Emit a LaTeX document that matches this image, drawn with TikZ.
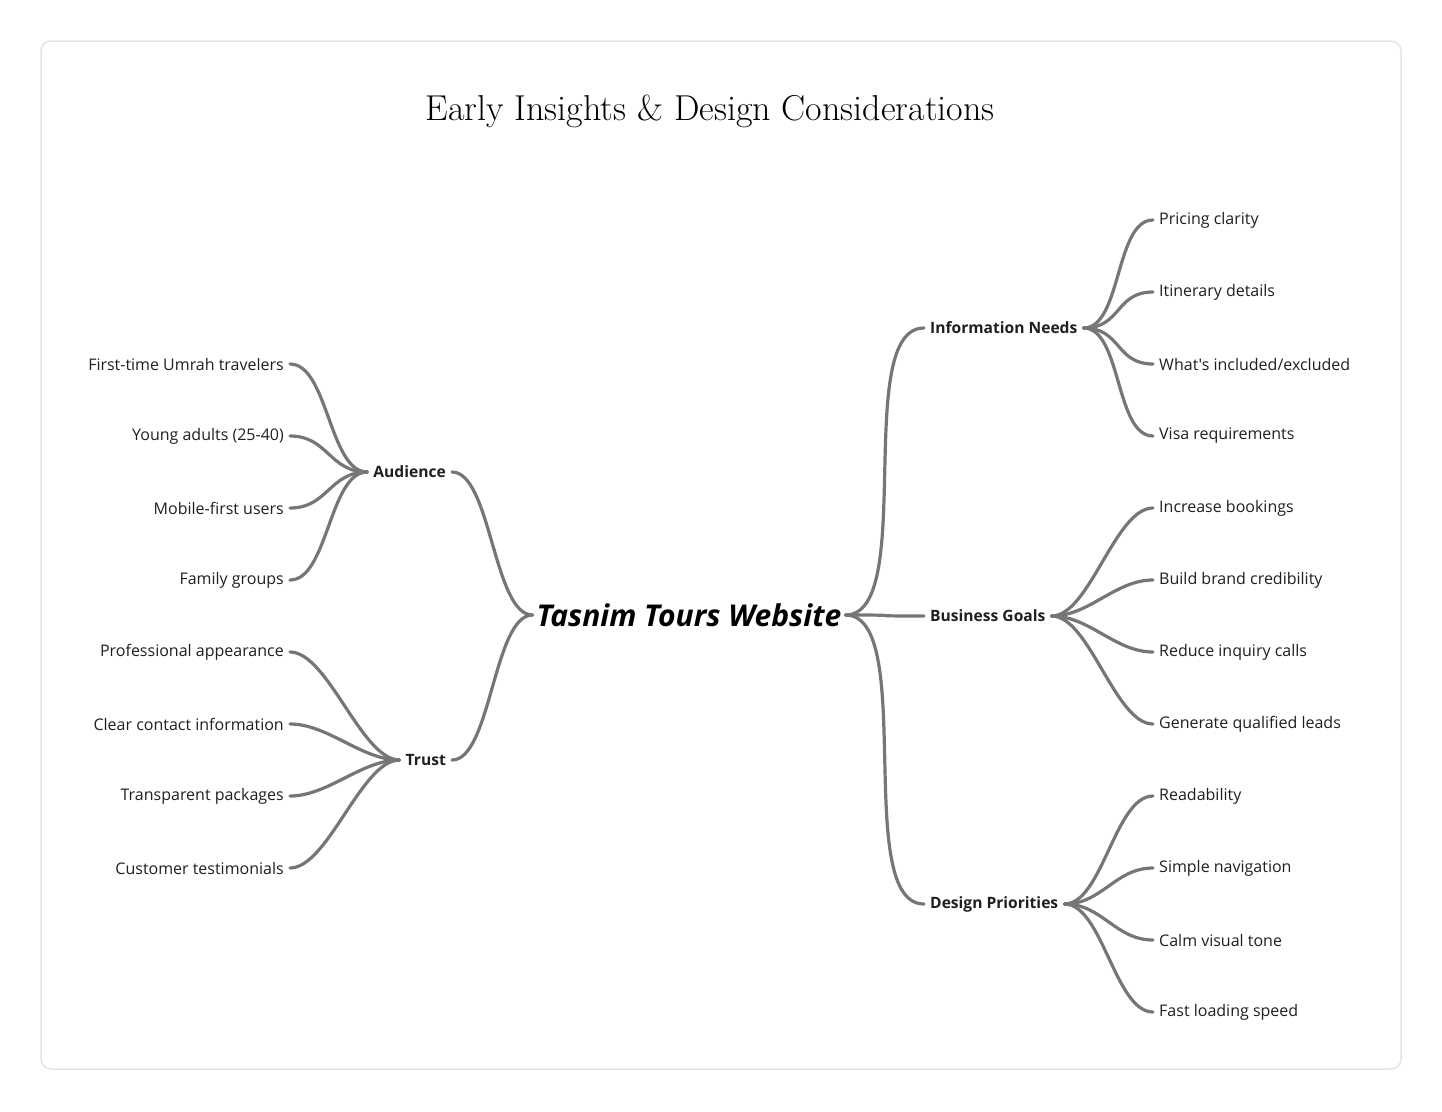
\documentclass[tikz,border=0pt]{standalone}
\usepackage{fontspec}
\newfontfamily\labelfont{Open Sans}
\usetikzlibrary{arrows}

\definecolor{linkgray}{HTML}{767676}
\definecolor{framegray}{HTML}{E4E4E4}
\definecolor{inkblack}{HTML}{1F1F1F}

\tikzset{
	leafL/.style={font=\labelfont\fontsize{16}{19}\selectfont, text=inkblack,
		anchor=east, inner xsep=6pt, inner ysep=2pt, yshift=-1pt},
	leafR/.style={leafL, anchor=west},
	branchL/.style={leafL, font=\labelfont\bfseries\fontsize{15.6}{18}\selectfont},
	branchR/.style={branchL, anchor=west},
	link/.style={draw=linkgray, line width=3.2pt, line cap=round},
}

\begin{document}
\begin{tikzpicture}[x=1pt, y=-1pt]
	\useasboundingbox (0,0) rectangle (1442,1111);
	\draw[framegray, line width=1.5pt, rounded corners=10pt] (41,41) rectangle (1401,1069);

	\node (title) at (710,111) {\fontsize{36}{42}\selectfont Early Insights \& Design Considerations};

	%% The root
	\node[inner xsep=4pt] (root) at (689,615)
		{\labelfont\bfseries\itshape\fontsize{30}{34}\selectfont Tasnim Tours Website};

	%% Left side
	\node[branchL] (aud) at (452,471) {Audience};
	\node[branchL] (trust) at (452,759) {Trust};

	\node[leafL] (aud1) at (290,363) {First-time Umrah travelers};
	\node[leafL] (aud2) at (290,435) {Young adults (25-40)};
	\node[leafL] (aud3) at (290,507) {Mobile-first users};
	\node[leafL] (aud4) at (290,579) {Family groups};

	\node[leafL] (trust1) at (290,651) {Professional appearance};
	\node[leafL] (trust2) at (290,723) {Clear contact information};
	\node[leafL] (trust3) at (290,795) {Transparent packages};
	\node[leafL] (trust4) at (290,867) {Customer testimonials};

	%% Right side
	\node[branchR] (info) at (924,327) {Information Needs};
	\node[branchR] (goals) at (924,615) {Business Goals};
	\node[branchR] (design) at (924,903) {Design Priorities};

	\node[leafR] (info1) at (1153,219) {Pricing clarity};
	\node[leafR] (info2) at (1153,291) {Itinerary details};
	\node[leafR] (info3) at (1153,363) {What's included/excluded};
	\node[leafR] (info4) at (1153,435) {Visa requirements};

	\node[leafR] (goals1) at (1153,507) {Increase bookings};
	\node[leafR] (goals2) at (1153,579) {Build brand credibility};
	\node[leafR] (goals3) at (1153,651) {Reduce inquiry calls};
	\node[leafR] (goals4) at (1153,723) {Generate qualified leads};

	\node[leafR] (design1) at (1153,795) {Readability};
	\node[leafR] (design2) at (1153,867) {Simple navigation};
	\node[leafR] (design3) at (1153,939) {Calm visual tone};
	\node[leafR] (design4) at (1153,1011) {Fast loading speed};

	%% Connectors
	\foreach \b in {aud,trust}
		\draw[link] (root.west) .. controls +(-39,0) and +(39,0) .. (\b.east);
	\foreach \b in {info,goals,design}
		\draw[link] (root.east) .. controls +(72,0) and +(-72,0) .. (\b.west);
	\foreach \b in {aud,trust}
		\foreach \i in {1,...,4}
			\draw[link] (\b\i.east) .. controls +(38,0) and +(-38,0) .. (\b.west);
	\foreach \b in {info,goals,design}
		\foreach \i in {1,...,4}
			\draw[link] (\b.east) .. controls +(38,0) and +(-38,0) .. (\b\i.west);
\end{tikzpicture}
\end{document}
